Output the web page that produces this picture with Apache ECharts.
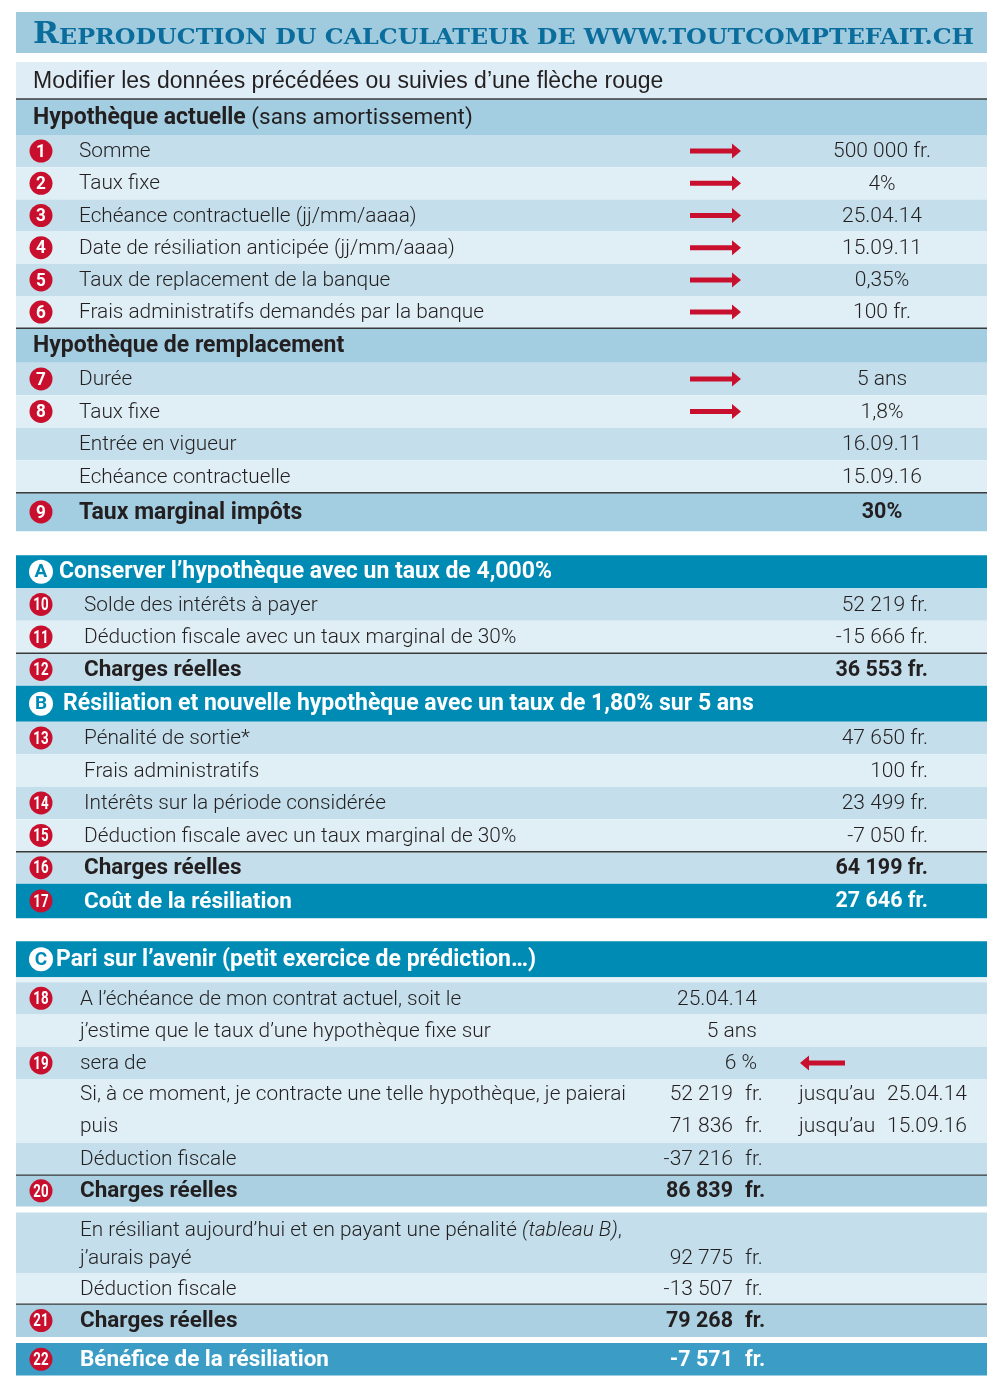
<!DOCTYPE html>
<html lang="fr">
<head>
<meta charset="utf-8">
<title>Calculateur résiliation hypothèque</title>
<script src="https://cdn.jsdelivr.net/npm/echarts@6/dist/echarts.min.js"></script>
<style>
  html, body { margin: 0; padding: 0; background: #fff; }
  #calc { width: 1000px; height: 1399px; }
</style>
</head>
<body>
<div id="calc"></div>
<script>
// --- Données ---
const titre = 'EPRODUCTION DU CALCULATEUR DE WWW.TOUTCOMPTEFAIT.CH';
const consigne = 'Modifier les données précédées ou suivies d’une flèche rouge';

const actuelleTitre = ['Hypothèque actuelle', '(sans amortissement)'];
const actuelleNumeros = [1, 2, 3, 4, 5, 6];
const actuelleLabels = ['Somme', 'Taux fixe', 'Echéance contractuelle (jj/mm/aaaa)', 'Date de résiliation anticipée (jj/mm/aaaa)', 'Taux de replacement de la banque', 'Frais administratifs demandés par la banque'];
const actuelleValeurs = ['500 000 fr.', '4%', '25.04.14', '15.09.11', '0,35%', '100 fr.'];

const remplacementTitre = 'Hypothèque de remplacement';
const remplacementNumeros = [7, 8, null, null];
const remplacementLabels = ['Durée', 'Taux fixe', 'Entrée en vigueur', 'Echéance contractuelle'];
const remplacementValeurs = ['5 ans', '1,8%', '16.09.11', '15.09.16'];
const remplacementFleches = [true, true, false, false];

const impotsLabel = 'Taux marginal impôts';
const impotsTaux = '30%';

const conserverTitre = 'Conserver l’hypothèque avec un taux de 4,000%';
const conserverNumeros = [10, 11, 12];
const conserverLabels = ['Solde des intérêts à payer', 'Déduction fiscale avec un taux marginal de 30%', 'Charges réelles'];
const conserverMontants = [52219, -15666, 36553];

const resilierTitre = 'Résiliation et nouvelle hypothèque avec un taux de 1,80% sur 5 ans';
const resilierNumeros = [13, null, 14, 15, 16, 17];
const resilierLabels = ['Pénalité de sortie*', 'Frais administratifs', 'Intérêts sur la période considérée', 'Déduction fiscale avec un taux marginal de 30%', 'Charges réelles', 'Coût de la résiliation'];
const resilierMontants = [47650, 100, 23499, -7050, 64199, 27646];

const pariTitre = 'Pari sur l’avenir (petit exercice de prédiction…)';
const pariNumeros = [18, null, 19];
const pariLabels = ['A l’échéance de mon contrat actuel, soit le', 'j’estime que le taux d’une hypothèque fixe sur', 'sera de'];
const pariValeurs = ['25.04.14', '5 ans', '6 %'];
const paiementLabels = ['Si, à ce moment, je contracte une telle hypothèque, je paierai', 'puis'];
const paiementMontants = [52219, 71836];
const paiementEcheances = ['25.04.14', '15.09.16'];
const pariDeduction = -37216;
const pariCharges = 86839;
const aujourdhuiLabels = ['En résiliant aujourd’hui et en payant une pénalité {i|(tableau B)},', 'j’aurais payé'];
const aujourdhuiMontant = 92775;
const aujourdhuiDeduction = -13507;
const aujourdhuiCharges = 79268;
const beneficeLabel = 'Bénéfice de la résiliation';
const benefice = -7571;

// --- Mise en page ---
const fmt = n => (n < 0 ? '-' : '') + String(Math.abs(n)).replace(/\B(?=(\d{3})+(?!\d))/g, ' ');

const COL = { left: 16, right: 987, head: 33, badge: 41, label: 79, labelAB: 84, labelC: 80, sect: 59,
  val1: 882, valAB: 928, valC: 733, unitC: 745, valC2: 757, jusqu: 799, date: 887 };
const FILL = { title: '#a0cbdf', note: '#dfeef6', head: '#a3cde0', med: '#c4dfeb', light: '#e0eff6', total: '#a3cde0',
  sect: '#008bb5', teal: '#008bb5', sum: '#abd0e1', final: '#3b9dc5', thin: '#e6f2f7' };
const HAUT = { title: 41, note: 37, head: 36, med: 32.3, light: 32.3, total: 38.5, sect: 34, teal: 34.5, sum: 32, final: 32.5, thin: 5 };
const INK = '#231f20';
const RED = '#c8102e';

const rows = [];
function add(kind, props) { rows.push(Object.assign({ kind: kind }, props || {})); }
const alt = i => (i % 2 ? 'light' : 'med');

add('gap', { h: 12 });
add('title');
add('gap', { h: 9 });
add('note', { cells: [{ x: COL.head, text: consigne, family: 'Liberation Sans', weight: 400, size: 23 }] });
add('head', { rule: true, cells: [{ x: COL.head, text: '{b|' + actuelleTitre[0] + '} ' + actuelleTitre[1], weight: 400, size: 22.5 }] });
actuelleLabels.forEach((lab, i) => add(alt(i), { h: 32.2, badge: actuelleNumeros[i], arrow: 'right',
  cells: [{ x: COL.label, text: lab }, { x: COL.val1, text: actuelleValeurs[i], align: 'center', v: true }] }));
add('head', { h: 34.5, rule: true, cells: [{ x: COL.head, text: remplacementTitre, bold: true, size: 23 }] });
remplacementLabels.forEach((lab, i) => add(alt(i), { h: 32.5, badge: remplacementNumeros[i], arrow: remplacementFleches[i] ? 'right' : null,
  cells: [{ x: COL.label, text: lab }, { x: COL.val1, text: remplacementValeurs[i], align: 'center', v: true }] }));
add('total', { rule: true, badge: 9, cells: [{ x: COL.label, text: impotsLabel, bold: true, size: 23 }, { x: COL.val1, text: impotsTaux, align: 'center', bold: true, v: true }] });
add('gap', { h: 24 });

add('sect', { h: 33, letter: 'A', cells: [{ x: COL.sect, text: conserverTitre, bold: true, size: 23 }] });
conserverLabels.forEach((lab, i) => {
  const last = i === conserverLabels.length - 1;
  add(last ? 'med' : alt(i), { h: 32.5, rule: last, badge: conserverNumeros[i],
    cells: [{ x: COL.labelAB, text: lab, bold: last }, { x: COL.valAB, text: fmt(conserverMontants[i]) + ' fr.', align: 'right', bold: last, v: true }] });
});
add('sect', { h: 36, letter: 'B', cells: [{ x: COL.sect + 4, text: resilierTitre, bold: true, size: 23 }] });
resilierLabels.forEach((lab, i) => {
  const kind = i === 5 ? 'teal' : (i === 4 ? 'med' : alt(i));
  add(kind, { h: i < 4 ? 32.5 : (i === 4 ? 32 : undefined), rule: i === 4, badge: resilierNumeros[i],
    cells: [{ x: COL.labelAB, text: lab, bold: i >= 4 }, { x: COL.valAB, text: fmt(resilierMontants[i]) + ' fr.', align: 'right', bold: i >= 4, v: true }] });
});
add('gap', { h: 23 });

add('sect', { h: 36, letter: 'C', cells: [{ x: COL.sect - 3, text: pariTitre, bold: true, size: 23 }] });
add('thin');
pariLabels.forEach((lab, i) => add(alt(i), { badge: pariNumeros[i], arrow: i === 2 ? 'left' : null,
  cells: [{ x: COL.labelC, text: lab }, { x: COL.valC2, text: pariValeurs[i], align: 'right', v: true }] }));
add('light', { h: 64, offsets: [15, 47], cells: [].concat.apply([], paiementLabels.map((lab, j) => [
  { x: COL.labelC, text: lab, line: j },
  { x: COL.valC, text: fmt(paiementMontants[j]), align: 'right', line: j, v: true },
  { x: COL.unitC, text: 'fr.', line: j, v: true },
  { x: COL.jusqu, text: 'jusqu’au', line: j, v: true },
  { x: COL.date, text: paiementEcheances[j], line: j, v: true }])) });
add('med', { h: 32, cells: [{ x: COL.labelC, text: 'Déduction fiscale' }, { x: COL.valC, text: fmt(pariDeduction), align: 'right', v: true }, { x: COL.unitC, text: 'fr.', v: true }] });
add('sum', { h: 31.5, rule: true, badge: 20, cells: [{ x: COL.labelC, text: 'Charges réelles', bold: true },
  { x: COL.valC, text: fmt(pariCharges), align: 'right', bold: true, v: true }, { x: COL.unitC, text: 'fr.', bold: true, v: true }] });
add('gap', { h: 6 });
add('med', { h: 61, offsets: [17, 45], cells: [{ x: COL.labelC, text: aujourdhuiLabels[0] }, { x: COL.labelC, text: aujourdhuiLabels[1], line: 1 },
  { x: COL.valC, text: fmt(aujourdhuiMontant), align: 'right', line: 1, v: true }, { x: COL.unitC, text: 'fr.', line: 1, v: true }] });
add('light', { h: 30.5, cells: [{ x: COL.labelC, text: 'Déduction fiscale' }, { x: COL.valC, text: fmt(aujourdhuiDeduction), align: 'right', v: true }, { x: COL.unitC, text: 'fr.', v: true }] });
add('sum', { h: 33, rule: true, badge: 21, cells: [{ x: COL.labelC, text: 'Charges réelles', bold: true },
  { x: COL.valC, text: fmt(aujourdhuiCharges), align: 'right', bold: true, v: true }, { x: COL.unitC, text: 'fr.', bold: true, v: true }] });
add('gap', { h: 6 });
add('final', { badge: 22, cells: [{ x: COL.labelC, text: beneficeLabel, bold: true },
  { x: COL.valC, text: fmt(benefice), align: 'right', bold: true, v: true }, { x: COL.unitC, text: 'fr.', bold: true, v: true }] });

// positions verticales cumulées
let yCur = 0;
rows.forEach(r => { r.y0 = yCur; yCur += (r.h != null ? r.h : HAUT[r.kind]); r.y1 = yCur; });

const RICH = {
  b: { fontFamily: 'Roboto', fontWeight: 700, fontSize: 23, fill: INK },
  i: { fontFamily: 'Roboto', fontWeight: 300, fontStyle: 'italic', fontSize: 20.8, fill: INK },
  R: { fontFamily: 'DejaVu Serif', fontWeight: 700, fontSize: 29, fill: '#0b6d9c', verticalAlign: 'bottom' },
  s: { fontFamily: 'DejaVu Serif', fontWeight: 700, fontSize: 22, fill: '#0b6d9c', verticalAlign: 'bottom' }
};

function cellSize(c) {
  if (c.size) return c.size;
  if (c.v) return c.bold ? 21.5 : 21;
  return c.bold ? 22.5 : 20.8;
}

function renderItem(params, api) {
  const r = rows[params.dataIndex];
  if (r.kind === 'gap') return { type: 'group', children: [] };
  const tl = api.coord([COL.left, api.value(1)]);
  const br = api.coord([COL.right, api.value(2)]);
  const px = x => api.coord([x, 0])[0];
  const h = br[1] - tl[1];
  const kids = [{ type: 'rect', shape: { x: tl[0], y: tl[1], width: br[0] - tl[0], height: h }, style: { fill: FILL[r.kind] } }];
  if (r.rule) kids.push({ type: 'line', shape: { x1: tl[0], y1: tl[1], x2: br[0], y2: tl[1] }, style: { stroke: '#3a3a3a', lineWidth: 1.4 } });
  const lineY = r.offsets ? r.offsets.map(o => tl[1] + o) : [tl[1] + h / 2];
  const cy = lineY[0];
  const white = r.kind === 'sect' || r.kind === 'teal' || r.kind === 'final';

  if (r.kind === 'title') {
    kids.push({ type: 'text', x: px(COL.head), y: tl[1] + 23, scaleX: 1.08,
      style: { text: '{R|R}{s|' + titre + '}', x: 0, y: 0, align: 'left', verticalAlign: 'middle', rich: RICH } });
  }
  if (r.badge) {
    kids.push({ type: 'circle', shape: { cx: px(COL.badge), cy: cy, r: 11.5 }, style: { fill: RED } });
    kids.push({ type: 'text', x: px(COL.badge), y: cy + 1, scaleX: r.badge > 9 ? 0.7 : 0.9,
      style: { text: String(r.badge), x: 0, y: 0, align: 'center', verticalAlign: 'middle',
        fontFamily: 'Roboto', fontWeight: 700, fontSize: 19, fill: '#fff' } });
  }
  if (r.letter) {
    kids.push({ type: 'circle', shape: { cx: px(COL.badge), cy: cy, r: 12 }, style: { fill: '#fff' } });
    kids.push({ type: 'text', style: { text: r.letter, x: px(COL.badge), y: cy + 1, align: 'center', verticalAlign: 'middle',
      fontFamily: 'Roboto', fontWeight: 700, fontSize: 19, fill: FILL.sect } });
  }
  if (r.arrow === 'right') {
    const a = px(690), b = px(732), c = px(741);
    kids.push({ type: 'polygon', shape: { points: [[a, cy - 2.5], [b, cy - 2.5], [b, cy - 7.5], [c, cy], [b, cy + 7.5], [b, cy + 2.5], [a, cy + 2.5]] }, style: { fill: RED } });
  } else if (r.arrow === 'left') {
    const a = px(845), b = px(809), c = px(800);
    kids.push({ type: 'polygon', shape: { points: [[a, cy - 2.5], [b, cy - 2.5], [b, cy - 7.5], [c, cy], [b, cy + 7.5], [b, cy + 2.5], [a, cy + 2.5]] }, style: { fill: RED } });
  }
  (r.cells || []).forEach(c => {
    kids.push({ type: 'text', style: {
      text: c.text, x: px(c.x), y: lineY[c.line || 0] + 1, align: c.align || 'left', verticalAlign: 'middle',
      fontFamily: c.family || 'Roboto', fontSize: cellSize(c), fontWeight: c.bold ? 700 : (c.weight || 300),
      fill: white ? '#fff' : INK, rich: RICH
    } });
  });
  return { type: 'group', children: kids };
}

const chart = echarts.init(document.getElementById('calc'), null, { renderer: 'canvas' });
chart.setOption({
  animation: false,
  grid: { left: 0, right: 0, top: 0, bottom: 0 },
  xAxis: { type: 'value', min: 0, max: 1000, show: false },
  yAxis: { type: 'value', min: 0, max: 1399, inverse: true, show: false },
  series: [{
    type: 'custom',
    clip: false,
    renderItem: renderItem,
    encode: { x: 0, y: [1, 2] },
    data: rows.map((r, i) => [i, r.y0, r.y1])
  }]
});
window.addEventListener('resize', chart.resize);
</script>
</body>
</html>
